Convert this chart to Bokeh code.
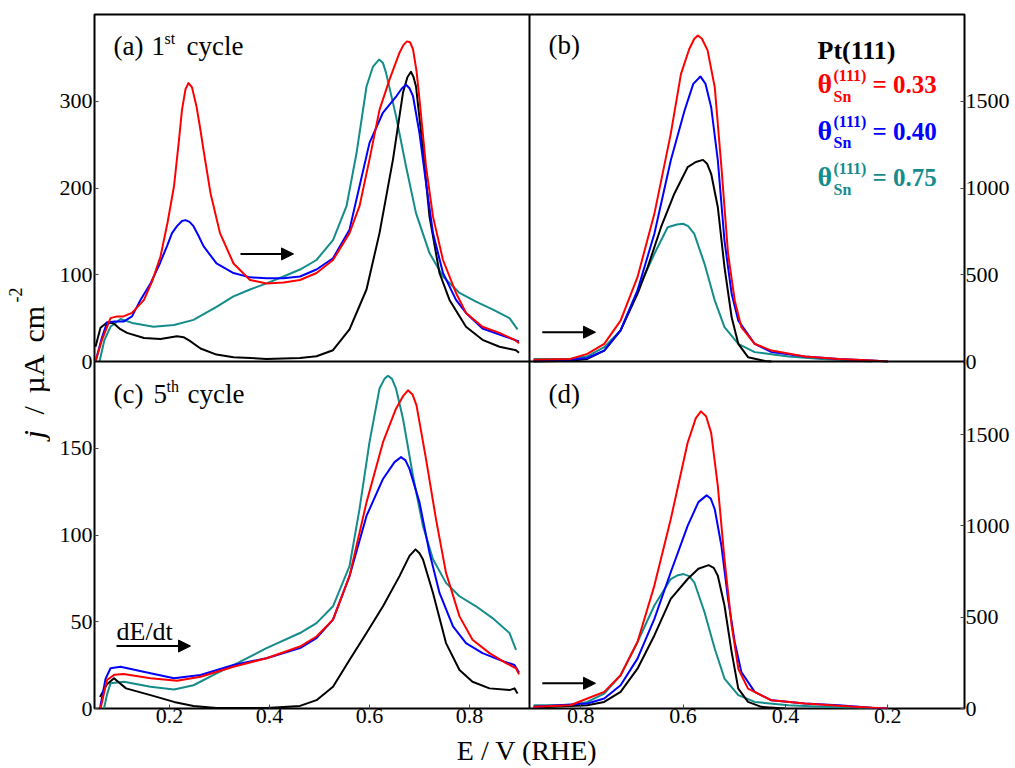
from math import pi
from bokeh.plotting import figure
from bokeh.layouts import row, column
from bokeh.models import Range1d, LinearAxis, FixedTicker, Span, Label, Arrow, NormalHead
from bokeh.embed import file_html
from bokeh.resources import INLINE

FONT = "Liberation Serif"
RED, BLUE, TEAL, BLACK = "#ff0000", "#0000ff", "#148c8c", "#000000"

# ---------------- data: panel (a) 1st cycle, positive sweep ----------------
E_a_red = [0.052, 0.065, 0.082, 0.095, 0.108, 0.125, 0.149, 0.165, 0.182, 0.196, 0.209, 0.218, 0.225, 0.232,
           0.238, 0.245, 0.254, 0.261, 0.268, 0.282, 0.301, 0.328, 0.361, 0.394, 0.428, 0.461, 0.494, 0.527,
           0.560, 0.580, 0.600, 0.620, 0.640, 0.660, 0.668, 0.675, 0.681, 0.687, 0.694, 0.700, 0.713, 0.727,
           0.747, 0.773, 0.793, 0.826, 0.860, 0.890, 0.899]
J_a_red = [0, 25, 50, 52, 52, 56, 71, 92, 121, 160, 202, 250, 290, 314,
           321, 316, 294, 270, 244, 194, 148, 113, 94, 90, 91, 94, 102, 117,
           148, 179, 233, 290, 325, 356, 365, 369, 368, 360, 335, 302, 225, 167,
           117, 79, 56, 40, 33, 25, 21]

E_a_blue = [0.052, 0.065, 0.075, 0.090, 0.108, 0.125, 0.142, 0.162, 0.180, 0.195, 0.205, 0.215, 0.225, 0.232,
            0.240, 0.248, 0.258, 0.268, 0.294, 0.328, 0.361, 0.394, 0.428, 0.461, 0.494, 0.527, 0.560, 0.580,
            0.600, 0.627, 0.654, 0.665, 0.673, 0.680, 0.687, 0.700, 0.713, 0.727, 0.747, 0.773, 0.793, 0.826,
            0.860, 0.890, 0.899]
J_a_blue = [0, 28, 45, 46, 46, 52, 71, 90, 112, 133, 148, 156, 162, 163,
            161, 156, 145, 133, 113, 102, 97, 96, 96, 98, 106, 119, 152, 202,
            252, 287, 306, 315, 319, 315, 306, 263, 206, 148, 102, 71, 56, 38,
            31, 25, 23]

E_a_teal = [0.060, 0.070, 0.082, 0.102, 0.128, 0.168, 0.209, 0.248, 0.294, 0.328, 0.361, 0.394, 0.428, 0.461,
            0.494, 0.527, 0.554, 0.574, 0.594, 0.607, 0.619, 0.627, 0.633, 0.653, 0.673, 0.693, 0.720, 0.747,
            0.780, 0.813, 0.846, 0.880, 0.896]
J_a_teal = [0, 25, 40, 49, 44, 40, 42, 48, 63, 75, 83, 90, 98, 106,
            117, 140, 179, 240, 317, 340, 348, 344, 333, 283, 225, 171, 125, 98,
            79, 69, 60, 50, 37]

E_a_black = [0.052, 0.062, 0.075, 0.088, 0.100, 0.115, 0.149, 0.182, 0.215, 0.228, 0.240, 0.262, 0.294, 0.328,
             0.394, 0.461, 0.494, 0.527, 0.560, 0.594, 0.620, 0.647, 0.667, 0.676, 0.683, 0.688, 0.693, 0.707,
             0.720, 0.740, 0.760, 0.793, 0.826, 0.860, 0.893, 0.899]
J_a_black = [17, 39, 45, 44, 38, 33, 27, 26, 29, 28, 24, 15, 8, 5,
             3, 4, 6, 13, 37, 83, 148, 233, 310, 328, 334, 328, 317, 244,
             167, 102, 71, 40, 25, 17, 13, 10]

# ---------------- data: panel (c) 5th cycle, positive sweep ----------------
E_c_red = [0.062, 0.075, 0.090, 0.108, 0.162, 0.215, 0.262, 0.328, 0.394, 0.461, 0.494, 0.527, 0.560, 0.594,
           0.627, 0.653, 0.667, 0.677, 0.686, 0.694, 0.713, 0.733, 0.753, 0.780, 0.806, 0.840, 0.873, 0.893, 0.899]
J_c_red = [0, 16.4, 19.5, 19.9, 17.4, 16.0, 18.3, 24.1, 29.0, 35.7, 41.5, 51.2, 76.3, 118.8,
           153.5, 172.8, 180.0, 183.4, 181.0, 174.7, 143.9, 109.1, 78.2, 53.1, 39.6, 31.9, 26.1, 23.2, 19.7]

E_c_blue = [0.061, 0.072, 0.082, 0.102, 0.162, 0.209, 0.262, 0.328, 0.394, 0.461, 0.494, 0.527, 0.560, 0.594,
            0.627, 0.650, 0.663, 0.672, 0.680, 0.700, 0.720, 0.740, 0.767, 0.793, 0.826, 0.860, 0.890, 0.899]
J_c_blue = [0, 17.0, 23.2, 24.1, 20.3, 17.4, 19.3, 25.1, 29.0, 34.8, 40.6, 51.2, 76.3, 111.0,
            132.3, 142.0, 144.9, 143.0, 138.1, 118.8, 89.8, 66.6, 47.3, 37.7, 31.9, 28.0, 25.1, 20.8]

E_c_teal = [0.069, 0.075, 0.082, 0.109, 0.162, 0.209, 0.248, 0.294, 0.328, 0.394, 0.461, 0.494, 0.527, 0.560,
            0.580, 0.600, 0.620, 0.630, 0.637, 0.645, 0.653, 0.667, 0.687, 0.707, 0.727, 0.753, 0.780, 0.813,
            0.846, 0.880, 0.893]
J_c_teal = [0, 8.0, 14.5, 15.4, 12.5, 11.0, 13.4, 20.3, 25.0, 34.8, 43.5, 49.2, 58.9, 82.0,
            114.9, 153.5, 184.4, 190.0, 191.8, 190.0, 184.4, 167.0, 134.0, 105.0, 86.0, 72.4, 64.7, 58.9,
            52.1, 43.5, 33.8]

E_c_black = [0.061, 0.075, 0.089, 0.113, 0.162, 0.209, 0.248, 0.294, 0.394, 0.461, 0.494, 0.527, 0.560, 0.594,
             0.627, 0.660, 0.680, 0.692, 0.700, 0.707, 0.727, 0.753, 0.780, 0.806, 0.840, 0.880, 0.890, 0.896]
J_c_black = [6.7, 14.0, 17.4, 11.6, 7.7, 3.8, 1.5, 0.3, 0.3, 1.5, 4.8, 12.5, 28.0, 43.5,
             58.9, 76.3, 88.0, 91.7, 89.5, 85.9, 66.6, 37.7, 22.2, 15.4, 11.6, 10.6, 11.6, 8.7]

# ---------------- data: panel (b) 1st cycle, negative sweep ----------------
E_b_red = [0.892, 0.820, 0.787, 0.754, 0.722, 0.689, 0.656, 0.624, 0.604, 0.588, 0.578, 0.571, 0.563, 0.552,
           0.538, 0.525, 0.512, 0.499, 0.486, 0.460, 0.427, 0.362, 0.296, 0.231, 0.200]
J_b_red = [10, 15, 44, 102, 236, 486, 851, 1312, 1658, 1800, 1860, 1879, 1860, 1793,
           1581, 1120, 621, 352, 198, 102, 63, 29, 15, 6, 0]

E_b_blue = [0.892, 0.820, 0.787, 0.754, 0.722, 0.689, 0.656, 0.624, 0.597, 0.580, 0.566, 0.556, 0.545, 0.532,
            0.519, 0.505, 0.492, 0.460, 0.427, 0.362, 0.296, 0.231, 0.200]
J_b_blue = [5, 10, 20, 63, 179, 409, 736, 1159, 1447, 1600, 1643, 1600, 1466, 1159,
            697, 390, 236, 102, 54, 29, 15, 6, 0]

E_b_black = [0.892, 0.820, 0.787, 0.754, 0.722, 0.689, 0.669, 0.643, 0.617, 0.591, 0.575, 0.561, 0.553, 0.545,
             0.532, 0.519, 0.505, 0.492, 0.473, 0.440, 0.427]
J_b_black = [0, 5, 15, 63, 179, 390, 544, 774, 967, 1120, 1150, 1162, 1140, 1082,
             889, 544, 255, 102, 25, 3, 0]

E_b_teal = [0.892, 0.820, 0.787, 0.754, 0.722, 0.689, 0.656, 0.630, 0.612, 0.600, 0.590, 0.578, 0.558, 0.538,
            0.519, 0.492, 0.460, 0.394, 0.329, 0.231]
J_b_teal = [15, 15, 30, 83, 179, 409, 621, 774, 790, 794, 780, 736, 563, 352,
            198, 102, 54, 29, 15, 0]

# ---------------- data: panel (d) 5th cycle, negative sweep ----------------
E_d_red = [0.892, 0.820, 0.787, 0.754, 0.722, 0.689, 0.656, 0.624, 0.591, 0.575, 0.565, 0.555, 0.545, 0.532,
           0.519, 0.505, 0.492, 0.473, 0.427, 0.362, 0.296, 0.231, 0.200]
J_d_red = [10, 18, 55, 91, 182, 364, 673, 1036, 1455, 1590, 1627, 1600, 1509, 1218,
           818, 455, 218, 109, 45, 27, 15, 4, 0]

E_d_blue = [0.892, 0.787, 0.754, 0.722, 0.689, 0.656, 0.624, 0.591, 0.570, 0.554, 0.546, 0.538, 0.525, 0.512,
            0.499, 0.486, 0.460, 0.427, 0.362, 0.296, 0.231, 0.200]
J_d_blue = [10, 27, 55, 127, 273, 491, 746, 1000, 1130, 1167, 1150, 1091, 891, 600,
            364, 200, 91, 45, 27, 18, 4, 0]

E_d_black = [0.892, 0.787, 0.754, 0.722, 0.689, 0.656, 0.624, 0.591, 0.570, 0.550, 0.540, 0.532, 0.519, 0.505,
             0.492, 0.473, 0.447, 0.400]
J_d_black = [5, 18, 36, 91, 218, 400, 600, 709, 765, 785, 770, 727, 564, 309,
             109, 36, 9, 0]

E_d_teal = [0.892, 0.820, 0.787, 0.754, 0.722, 0.689, 0.656, 0.624, 0.610, 0.599, 0.588, 0.578, 0.558, 0.538,
            0.519, 0.492, 0.460, 0.394, 0.329, 0.264, 0.230]
J_d_teal = [18, 18, 36, 82, 182, 364, 564, 709, 730, 736, 725, 691, 527, 327,
            164, 73, 36, 18, 9, 4, 0]

# ---------------- axes / ticks / legend texts ----------------
E_left = (0.05, 0.92)          # panels (a), (c): positive sweep
E_right = (0.90, 0.05)         # panels (b), (d): negative sweep (reversed axis)
J_a = (0, 400)
J_b = (0, 2000)
J_c = (0, 200)
J_d = (0, 1900)
ticks_E_left = [0.2, 0.4, 0.6, 0.8]
ticks_E_right = [0.8, 0.6, 0.4, 0.2]
ticks_a = [0, 100, 200, 300]
ticks_c = [0, 50, 100, 150]
ticks_b = [0, 500, 1000, 1500]
ticks_d = [0, 500, 1000, 1500]
coverages = ["0.33", "0.40", "0.75"]
coverage_colors = [RED, BLUE, TEAL]


def whole_frame(lo, hi, half):
    """Range over the whole frame for a panel that fills one half of it."""
    d = hi - lo
    if half in ("left", "bottom"):
        return Range1d(lo, hi + d)
    return Range1d(lo - d, hi)


def conv(v, src, dst):
    return dst.start + (v - src.start) * (dst.end - dst.start) / (src.end - src.start)


def bare(fig):
    fig.grid.visible = False
    fig.outline_line_color = None
    fig.background_fill_color = "white"
    fig.border_fill_color = "white"


# ---------------- main 2x2 panel figure ----------------
p = figure(frame_width=870, frame_height=694,
           min_border_left=44, min_border_right=49, min_border_top=14, min_border_bottom=26,
           x_range=Range1d(94, 964), y_range=Range1d(708, 14),
           x_axis_location=None, y_axis_location=None,
           toolbar_location=None, output_backend="svg")
bare(p)
p.outline_line_color = "black"
p.outline_line_width = 2

p.extra_x_ranges = {"xl": whole_frame(*E_left, "left"), "xr": whole_frame(*E_right, "right")}
p.extra_y_ranges = {"ya": whole_frame(*J_a, "top"), "yb": whole_frame(*J_b, "top"),
                    "yc": whole_frame(*J_c, "bottom"), "yd": whole_frame(*J_d, "bottom")}
R = {**p.extra_x_ranges, **p.extra_y_ranges}


def style_axis(ax, standoff):
    ax.axis_line_color = None
    ax.major_tick_in = 4
    ax.major_tick_out = 0
    ax.major_tick_line_color = "#444444"
    ax.minor_tick_line_color = None
    ax.major_label_text_font = FONT
    ax.major_label_text_font_size = "22px"
    ax.major_label_text_color = "black"
    ax.major_label_standoff = standoff


# left axis (panel a above panel c), drawn on the c scale
lt = [float(v) for v in ticks_c] + [conv(v, R["ya"], R["yc"]) for v in ticks_a]
ll = [str(v) for v in ticks_c] + [str(v) for v in ticks_a]
ax_l = LinearAxis(y_range_name="yc", ticker=FixedTicker(ticks=lt),
                  major_label_overrides=dict(zip(lt, ll)))
style_axis(ax_l, 2)
p.add_layout(ax_l, "left")

# right axis (panel b above panel d), drawn on the d scale
rt = [float(v) for v in ticks_d] + [conv(v, R["yb"], R["yd"]) for v in ticks_b]
rl = [str(v) for v in ticks_d] + [str(v) for v in ticks_b]
ax_r = LinearAxis(y_range_name="yd", ticker=FixedTicker(ticks=rt),
                  major_label_overrides=dict(zip(rt, rl)))
style_axis(ax_r, 1)
p.add_layout(ax_r, "right")

# bottom axis (panels c and d), drawn on the left E scale
bt = [float(v) for v in ticks_E_left] + [conv(v, R["xr"], R["xl"]) for v in ticks_E_right]
bl = [str(v) for v in ticks_E_left] + [str(v) for v in ticks_E_right]
ax_b = LinearAxis(x_range_name="xl", ticker=FixedTicker(ticks=bt),
                  major_label_overrides=dict(zip(bt, bl)))
style_axis(ax_b, 0)
p.add_layout(ax_b, "below")

# panel dividers
p.add_layout(Span(location=E_left[1], dimension="height", x_range_name="xl",
                  line_color="black", line_width=2))
p.add_layout(Span(location=J_a[0], dimension="width", y_range_name="ya",
                  line_color="black", line_width=2))

# curves
panels = [
    ("xl", "ya", [(E_a_teal, J_a_teal, TEAL), (E_a_black, J_a_black, BLACK),
                  (E_a_blue, J_a_blue, BLUE), (E_a_red, J_a_red, RED)]),
    ("xr", "yb", [(E_b_teal, J_b_teal, TEAL), (E_b_black, J_b_black, BLACK),
                  (E_b_blue, J_b_blue, BLUE), (E_b_red, J_b_red, RED)]),
    ("xl", "yc", [(E_c_teal, J_c_teal, TEAL), (E_c_black, J_c_black, BLACK),
                  (E_c_blue, J_c_blue, BLUE), (E_c_red, J_c_red, RED)]),
    ("xr", "yd", [(E_d_teal, J_d_teal, TEAL), (E_d_black, J_d_black, BLACK),
                  (E_d_blue, J_d_blue, BLUE), (E_d_red, J_d_red, RED)]),
]
for xr_name, yr_name, curves in panels:
    for ex, jy, col in curves:
        p.line(ex, jy, x_range_name=xr_name, y_range_name=yr_name,
               line_color=col, line_width=2, line_join="round")

# sweep-direction arrows
for (x0, x1, yv, xn, yn) in [(0.342, 0.448, 124, "xl", "ya"),
                             (0.875, 0.771, 169, "xr", "yb"),
                             (0.094, 0.242, 36, "xl", "yc"),
                             (0.875, 0.771, 138, "xr", "yd")]:
    p.add_layout(Arrow(end=NormalHead(size=12, fill_color="black", line_color="black"),
                       x_start=x0, y_start=yv, x_end=x1, y_end=yv,
                       x_range_name=xn, y_range_name=yn,
                       line_color="black", line_width=2))

SHIFT = 0.31   # Bokeh draws an "alphabetic" Label about this many em lower than its anchor


def txt(fig, x, y, s, size, style="normal", color="black", angle=0.0, align="left"):
    k = SHIFT * size
    if angle:
        x = x - k
    else:
        y = y - k
    fig.add_layout(Label(x=x, y=y, text=s, text_font=FONT, text_font_size=f"{size}px",
                         text_font_style=style, text_color=color, angle=angle,
                         text_align=align, text_baseline="alphabetic"))


# panel captions
txt(p, 113, 54, "(a)", 27)
txt(p, 151, 54, "1", 27)
txt(p, 164, 43, "st", 16)
txt(p, 186, 54, "cycle", 27)
txt(p, 113, 402, "(c)", 27)
txt(p, 153, 402, "5", 27)
txt(p, 166, 391, "th", 16)
txt(p, 187, 402, "cycle", 27)
txt(p, 548, 53, "(b)", 27)
txt(p, 548, 402, "(d)", 27)
txt(p, 116, 639, "dE/dt", 26)

# legend block
txt(p, 817, 58, "Pt(111)", 26, "bold")
for i, (cv, col) in enumerate(zip(coverages, coverage_colors)):
    base = 92 + 46.3 * i
    txt(p, 817, base, "\u03b8", 28, "bold", col)
    txt(p, 833, base - 12, "(111)", 16, "bold", col)
    txt(p, 833, base + 9, "Sn", 16, "bold", col)
    txt(p, 872, base, "= " + cv, 25, "bold", col)

# ---------------- y-axis title strip ----------------
fy = figure(width=50, height=766, x_range=Range1d(0, 50), y_range=Range1d(766, 0),
            min_border=0, x_axis_location=None, y_axis_location=None,
            toolbar_location=None, output_backend="svg")
bare(fy)
txt(fy, 42, 438, "j", 30, "italic", angle=pi / 2)
txt(fy, 42, 414, "/", 30, angle=pi / 2)
txt(fy, 42, 393, "\u00b5A", 30, angle=pi / 2)
txt(fy, 42, 342, "cm", 30, angle=pi / 2)
txt(fy, 21, 302, "-2", 18, angle=pi / 2)

# ---------------- x-axis title strip ----------------
fx = figure(width=963, height=32, x_range=Range1d(50, 1013), y_range=Range1d(766, 734),
            min_border=0, x_axis_location=None, y_axis_location=None,
            toolbar_location=None, output_backend="svg")
bare(fx)
txt(fx, 529, 759, "E / V (RHE)", 28, align="center")

layout = row(fy, column(p, fx))
open("out.html", "w").write(file_html(layout, INLINE))
